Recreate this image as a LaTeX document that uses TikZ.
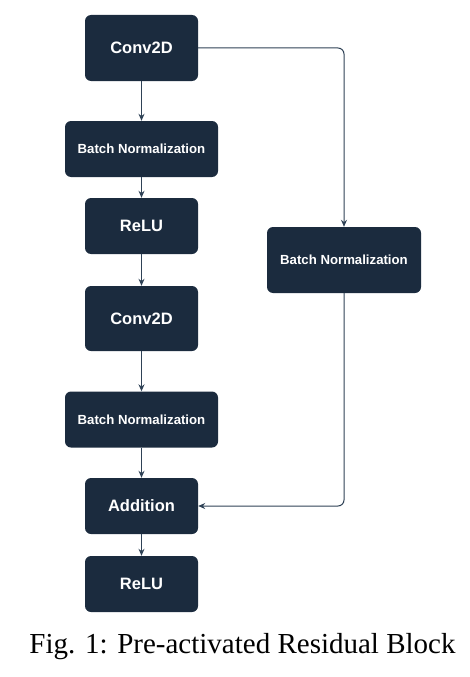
\documentclass[tikz,border=0pt]{standalone}
\usepackage{fontspec}
\setmainfont{Liberation Serif}
\newfontfamily\boxfont{Liberation Sans}
\usetikzlibrary{arrows.meta,positioning,calc}

\definecolor{boxnavy}{HTML}{1B2B3E}
\definecolor{linkgray}{HTML}{2F4256}

\begin{document}
\begin{tikzpicture}
[x=1pt,y=-1pt,
layer/.style={shape=rectangle,rounded corners=6pt,fill=boxnavy,draw=none,
text=white,font=\boxfont\bfseries\fontsize{16.5}{19}\selectfont,
minimum width=113pt,minimum height=56pt,inner sep=0pt},
widelayer/.style={layer,minimum width=153pt,font=\boxfont\bfseries\fontsize{13.2}{15}\selectfont},
link/.style={-{Stealth[length=7pt,width=6pt]},draw=linkgray,line width=1pt},
skiplink/.style={link,rounded corners=6pt}]
\useasboundingbox (0,0) rectangle (470,677);
%%%%% main path
\node (conv1) [layer,minimum height=66pt] at (141.5,48) {Conv2D};
\node (bn1) [widelayer] at (141.5,149) {Batch Normalization};
\node (relu1) [layer] at (141.5,226) {ReLU};
\node (conv2) [layer,minimum height=65pt] at (141.5,318.5) {Conv2D};
\node (bn2) [widelayer] at (141.5,419.5) {Batch Normalization};
\node (add) [layer] at (141.5,506) {Addition};
\node (relu2) [layer] at (141.5,584) {ReLU};
%% shortcut branch
\node (bnr) [widelayer,minimum width=154pt,minimum height=66pt] at (344,260) {Batch Normalization};
%% edges
\draw[link] (conv1) -- (bn1);
\draw[link] (bn1) -- (relu1);
\draw[link] (relu1) -- (conv2);
\draw[link] (conv2) -- (bn2);
\draw[link] (bn2) -- (add);
\draw[link] (add) -- (relu2);
\draw[skiplink] (conv1.east) -| (bnr.north);
\draw[skiplink] (bnr.south) |- (add.east);
%% caption
\node (cap) [font=\fontsize{29}{34}\selectfont,anchor=base] at (242.5,653) {Fig. 1: Pre-activated Residual Block};
\end{tikzpicture}
\end{document}
